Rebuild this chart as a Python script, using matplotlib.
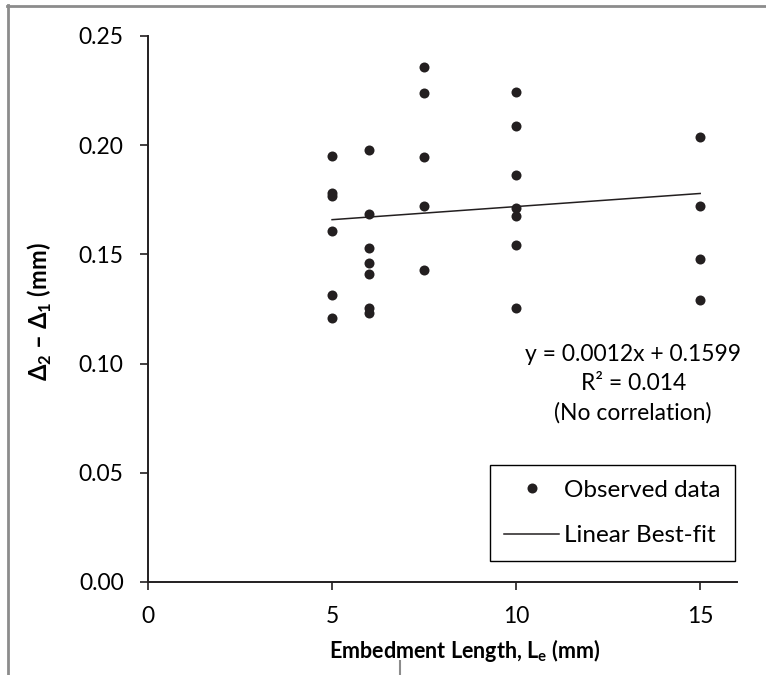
import matplotlib
matplotlib.use("Agg")
import matplotlib.pyplot as plt
from matplotlib.lines import Line2D
import numpy as np

# Observed Δ2 − Δ1 values grouped by embedment length
lengths = [5, 6, 7.5, 10, 15]
delta_5 = [0.1951, 0.1780, 0.1769, 0.1606, 0.1313, 0.1210]
delta_6 = [0.1978, 0.1685, 0.1529, 0.1462, 0.1410, 0.1256, 0.1230]
delta_7_5 = [0.2360, 0.2240, 0.1946, 0.1723, 0.1430]
delta_10 = [0.2245, 0.2088, 0.1865, 0.1712, 0.1677, 0.1545, 0.1255]
delta_15 = [0.2038, 0.1723, 0.1480, 0.1291]

# Reported linear trend
slope = 0.0012
intercept = 0.1599
r_squared = 0.014

x_ticks = [0, 5, 10, 15]
y_ticks = [0.00, 0.05, 0.10, 0.15, 0.20, 0.25]

groups = [delta_5, delta_6, delta_7_5, delta_10, delta_15]
xs = np.concatenate([[L] * len(g) for L, g in zip(lengths, groups)])
ys = np.concatenate(groups)

FONT = "Lato"
plt.rcParams["font.family"] = [FONT, "DejaVu Sans"]
plt.rcParams["mathtext.fontset"] = "custom"
plt.rcParams["mathtext.rm"] = FONT
plt.rcParams["mathtext.bf"] = FONT + ":bold"

INK = "#231f20"
FS = 16.5
W, H = 766, 675
fig = plt.figure(figsize=(W / 100, H / 100), dpi=100)

# Axes frame in pixel units
left_px, right_px, top_px, bottom_px = 148, 737, 36, 582
ax = fig.add_axes([left_px / W, (H - bottom_px) / H,
                   (right_px - left_px) / W, (bottom_px - top_px) / H])

ax.scatter(xs, ys, s=52, color=INK, zorder=3, linewidths=0,
           label="Observed data")

fit_x = np.array([min(lengths), max(lengths)])
ax.plot(fit_x, slope * fit_x + intercept, color=INK, lw=1.1, zorder=2)

ax.set_xlim(0, 16)
ax.set_ylim(0, 0.25)
ax.set_xticks(x_ticks)
ax.set_yticks(y_ticks)
ax.set_yticklabels([f"{v:.2f}" for v in y_ticks])

for side in ("top", "right"):
    ax.spines[side].set_visible(False)
for side in ("left", "bottom"):
    ax.spines[side].set_linewidth(1.4)
    ax.spines[side].set_color(INK)
ax.tick_params(direction="out", length=5.5, width=1.2, color=INK,
               labelsize=FS, labelcolor="black", pad=12)

ax.set_xlabel("Embedment Length, L$_\\mathbf{e}$ (mm)", fontsize=15.5,
              fontweight="bold")
ax.xaxis.set_label_coords((465 - left_px) / (right_px - left_px), -0.1)
ax.xaxis.label.set_va("top")

ax.set_ylabel("Δ$_\\mathbf{2}$ – Δ$_\\mathbf{1}$ (mm)", fontsize=FS + 0.5,
              fontweight="bold")
ax.yaxis.set_label_coords((40 - left_px) / (right_px - left_px),
                          (582 - 312) / (582 - 36))
ax.yaxis.label.set_ha("center")
ax.yaxis.label.set_va("center")

ax.text(13.18, 0.0907,
        f"y = {slope}x + {intercept}\nR² = {r_squared}\n(No correlation)",
        ha="center", va="center", fontsize=FS, linespacing=1.45)

handles = [
    Line2D([], [], ls="none", marker="o", markersize=7.2, color=INK,
           markeredgewidth=0),
    Line2D([], [], color=INK, lw=1.1),
]
leg = ax.legend(handles, ["Observed data", "Linear Best-fit"],
                loc="lower right",
                bbox_to_anchor=(735 / W, (H - 561) / H),
                bbox_transform=fig.transFigure, borderaxespad=0,
                fontsize=17.5, frameon=True, fancybox=False, framealpha=1,
                edgecolor="black", handlelength=2.25, handletextpad=0.2,
                borderpad=0.6, labelspacing=1.02)
leg.get_frame().set_linewidth(1.0)

# Outer figure border lines
border = "#8c8c8c"
fig.add_artist(Line2D([7.5 / W, 7.5 / W], [0, 1 - 5 / H], color=border,
                      lw=2, transform=fig.transFigure))
fig.add_artist(Line2D([6.5 / W, 1], [1 - 5.5 / H, 1 - 5.5 / H], color=border,
                      lw=2, transform=fig.transFigure))
fig.add_artist(Line2D([400 / W, 400 / W], [0, 14 / H], color=border,
                      lw=1.5, transform=fig.transFigure))

fig.savefig("out.png", dpi=100)
